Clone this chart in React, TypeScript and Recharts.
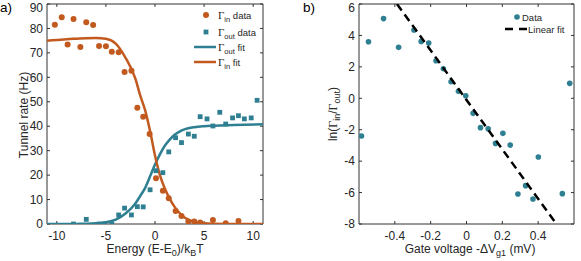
import React from "react";
import { ComposedChart, Scatter, XAxis, YAxis, ReferenceLine } from "recharts";

// panel a) tunnel rates vs energy
const energyIn = [-10.2, -9.5, -8.9, -8.3, -7.6, -7.0, -6.3, -5.7, -5.0, -4.4, -3.7, -3.1, -2.4, -1.8, -1.2, -0.55, 0.1, 0.8, 1.4, 2.1, 2.7, 3.4, 4.0, 4.6, 5.9, 7.2, 8.5];
const gammaInData = [81.5, 84.6, 73.4, 83.9, 72.4, 82.5, 81.4, 72.8, 72.7, 70.5, 70.3, 62.2, 62.7, 47.6, 43.9, 36.8, 18.7, 13.6, 10.5, 5.3, 3.3, 1.0, 1.0, 0.6, 1.6, 0.3, 1.2];
const energyOut = [-8.3, -7.0, -5.7, -5.1, -4.4, -3.7, -3.1, -2.4, -1.8, -1.2, -0.5, 0.1, 0.8, 1.4, 2.1, 2.7, 3.4, 4.0, 4.6, 5.3, 5.9, 6.6, 7.2, 7.9, 8.5, 9.1, 9.8, 10.4];
const gammaOutData = [0, 1.9, 0, 0.1, 0, 3.7, 6.5, 3.7, 7.1, 7.0, 14.0, 21.8, 21.0, 29.5, 35.3, 33.3, 36.8, 35.9, 43.9, 43.0, 40.1, 45.7, 40.9, 43.4, 44.3, 43.0, 43.4, 50.6];
const energyFit = [-11, -10, -9, -8, -7, -6, -5, -4, -3, -2, -1.5, -1, -0.5, 0, 0.5, 1, 1.5, 2, 2.5, 3, 4, 5, 6, 8, 11];
const gammaInFit = [75.0, 75.3, 75.6, 75.8, 76.0, 76.1, 75.8, 73.8, 68.0, 59.5, 52.5, 46.5, 38.0, 28.0, 20.0, 14.5, 10.3, 7.0, 4.5, 2.7, 0.9, 0.3, 0.1, 0, 0];
const gammaOutFit = [0, 0, 0, 0.05, 0.1, 0.3, 0.7, 1.8, 4.3, 8.4, 11.5, 14.8, 19.5, 24.3, 28.5, 32.0, 34.5, 36.5, 37.8, 38.7, 39.6, 40.0, 40.2, 40.5, 40.8];
const energyTicks = [-10, -5, 0, 5, 10];
const rateTicks = [0, 10, 20, 30, 40, 50, 60, 70, 80, 90];

// panel b) log ratio vs gate voltage
const gateVoltage = [-0.586, -0.547, -0.463, -0.379, -0.293, -0.253, -0.211, -0.170, -0.129, -0.086, -0.045, -0.004, 0.037, 0.078, 0.121, 0.162, 0.203, 0.244, 0.287, 0.330, 0.371, 0.401, 0.535, 0.576];
const lnRatio = [-2.40, 3.6, 5.07, 3.24, 4.35, 3.62, 3.52, 2.39, 1.88, 1.05, 0.44, 0.16, -0.96, -1.87, -1.94, -2.87, -2.23, -2.98, -6.09, -5.56, -6.41, -3.74, -6.07, 0.95];
const fitVoltage = [-0.388, 0.502];
const fitLn = [6, -8];
const voltageTicks = [-0.4, -0.2, 0, 0.2, 0.4];
const lnTicks = [-8, -6, -4, -2, 0, 2, 4, 6];

const ORANGE = "#C25A1F";
const TEAL = "#2E7F91";
const AX = "#333333";
const sans = "'Liberation Sans', Arial, sans-serif";
const serif = "'Liberation Serif', 'Times New Roman', serif";
const tickStyle = { fontSize: 12, fontFamily: sans, fill: "#262626" };

const zip = (xs: number[], ys: number[]) => xs.map((x, i) => ({ x, y: ys[i] }));

const Dot = (color: string, r: number) => (p: any) => <circle cx={p.cx} cy={p.cy} r={r} fill={color} />;
const Square = (color: string, s: number) => (p: any) => (
  <rect x={p.cx - s / 2} y={p.cy - s / 2} width={s} height={s} fill={color} />
);
const NoDot = () => <g />;

const Gamma = ({ sub, rest, x, y }: { sub: string; rest: string; x: number; y: number }) => (
  <text x={x} y={y} fill="#262626">
    <tspan fontFamily={serif} fontSize={11}>Γ</tspan>
    <tspan fontFamily={sans} fontSize={7.5} dy={3}>{sub}</tspan>
    <tspan fontFamily={sans} fontSize={9.5} dy={-3}>{rest}</tspan>
  </text>
);

// MATLAB-style box: top/right border with inward ticks, in data units
const boxLines = (xd: number[], yd: number[], xt: number[], yt: number[], dx: number, dy: number) => [
  <ReferenceLine key="top" y={yd[1]} stroke={AX} />,
  <ReferenceLine key="right" x={xd[1]} stroke={AX} />,
  ...xt.map((t) => (
    <ReferenceLine key={"tx" + t} segment={[{ x: t, y: yd[1] }, { x: t, y: yd[1] - dy }]} stroke={AX} />
  )),
  ...yt.map((t) => (
    <ReferenceLine key={"ty" + t} segment={[{ x: xd[1], y: t }, { x: xd[1] - dx, y: t }]} stroke={AX} />
  )),
];

export default function App() {
  return (
    <div style={{ position: "absolute", left: 0, top: 0, width: 581, height: 261, background: "#fff", overflow: "hidden" }}>
      <div style={{ position: "absolute", left: 0, top: 0 }}>
        <ComposedChart width={290} height={261} margin={{ top: 4, right: 27, bottom: 0, left: 0 }}>
          <XAxis dataKey="x" type="number" domain={[-11, 11]} ticks={energyTicks} height={37} tickSize={-3} tickMargin={10} stroke={AX} tick={tickStyle} allowDataOverflow />
          <YAxis type="number" domain={[0, 90]} ticks={rateTicks} width={47} tickSize={-3} tickMargin={7} stroke={AX} tick={tickStyle} allowDataOverflow />
          {boxLines([-11, 11], [0, 90], energyTicks, rateTicks, 0.3, 1.2)}
          <Scatter data={zip(energyFit, gammaOutFit)} dataKey="y" shape={NoDot} line={{ stroke: TEAL, strokeWidth: 2.5 }} lineJointType="monotoneX" isAnimationActive={false} />
          <Scatter data={zip(energyFit, gammaInFit)} dataKey="y" shape={NoDot} line={{ stroke: ORANGE, strokeWidth: 2.5 }} lineJointType="monotoneX" isAnimationActive={false} />
          <Scatter data={zip(energyIn, gammaInData)} dataKey="y" shape={Dot(ORANGE, 3)} isAnimationActive={false} />
          <Scatter data={zip(energyOut, gammaOutData)} dataKey="y" shape={Square(TEAL, 4.8)} isAnimationActive={false} />
        </ComposedChart>
      </div>
      <div style={{ position: "absolute", left: 290, top: 0 }}>
        <ComposedChart width={291} height={261} margin={{ top: 4, right: 7, bottom: 0, left: 0 }}>
          <XAxis dataKey="x" type="number" domain={[-0.6, 0.6]} ticks={voltageTicks} height={37} tickSize={-3} tickMargin={10} stroke={AX} tick={tickStyle} allowDataOverflow />
          <YAxis type="number" domain={[-8, 6]} ticks={lnTicks} width={69} tickSize={-3} tickMargin={7} stroke={AX} tick={tickStyle} allowDataOverflow />
          {boxLines([-0.6, 0.6], [-8, 6], voltageTicks, lnTicks, 0.017, 0.19)}
          <Scatter data={zip(gateVoltage, lnRatio)} dataKey="y" shape={Dot(TEAL, 2.8)} isAnimationActive={false} />
          <Scatter data={zip(fitVoltage, fitLn)} dataKey="y" shape={NoDot} line={{ stroke: "#000", strokeWidth: 2.5, strokeDasharray: "8 5" }} isAnimationActive={false} />
        </ComposedChart>
      </div>
      <svg width={581} height={261} style={{ position: "absolute", left: 0, top: 0, pointerEvents: "none" }}>
        <text x={0} y={12} fontFamily={sans} fontSize={13.5} fill="#000">a)</text>
        <text x={303} y={12} fontFamily={sans} fontSize={13.5} fill="#000">b)</text>

        {/* legend a */}
        <circle cx={206} cy={15} r={3} fill={ORANGE} />
        <Gamma x={218} y={18.5} sub="in" rest=" data" />
        <rect x={203.6} y={29.6} width={4.8} height={4.8} fill={TEAL} />
        <Gamma x={218} y={35.5} sub="out" rest=" data" />
        <line x1={194} x2={216} y1={47} y2={47} stroke={TEAL} strokeWidth={2.5} />
        <Gamma x={218} y={50.5} sub="out" rest=" fit" />
        <line x1={194} x2={216} y1={62} y2={62} stroke={ORANGE} strokeWidth={2.5} />
        <Gamma x={218} y={65.5} sub="in" rest=" fit" />

        {/* legend b */}
        <circle cx={517} cy={17} r={2.8} fill={TEAL} />
        <text x={522} y={20.5} fontFamily={sans} fontSize={9.5} fill="#262626">Data</text>
        <line x1={505} x2={527} y1={29} y2={29} stroke="#000" strokeWidth={2.5} strokeDasharray="8 6" />
        <text x={528} y={32.5} fontFamily={sans} fontSize={9.5} fill="#262626">Linear fit</text>

        {/* axis labels a */}
        <text x={155} y={253} textAnchor="middle" fontFamily={sans} fontSize={12} fill="#262626">
          Energy (E-E<tspan fontSize={9} dy={3}>0</tspan><tspan dy={-3}>)/k</tspan><tspan fontSize={9} dy={3}>B</tspan><tspan dy={-3}>T</tspan>
        </text>
        <text transform="translate(28,115) rotate(-90)" textAnchor="middle" fontFamily={sans} fontSize={12} fill="#262626">
          Tunnel rate (Hz)
        </text>

        {/* axis labels b */}
        <text x={470} y={253} textAnchor="middle" fontFamily={sans} fontSize={12} fill="#262626">
          Gate voltage  -ΔV<tspan fontSize={9} dy={3}>g1</tspan><tspan dy={-3}> (mV)</tspan>
        </text>
        <text transform="translate(337,114) rotate(-90)" textAnchor="middle" fontFamily={sans} fontSize={12} fill="#262626">
          ln(<tspan fontFamily={serif}>Γ</tspan><tspan fontSize={9} dy={3}>in</tspan><tspan dy={-3}>/</tspan><tspan fontFamily={serif}>Γ</tspan><tspan fontSize={9} dy={3}>out</tspan><tspan dy={-3}>)</tspan>
        </text>
      </svg>
    </div>
  );
}
